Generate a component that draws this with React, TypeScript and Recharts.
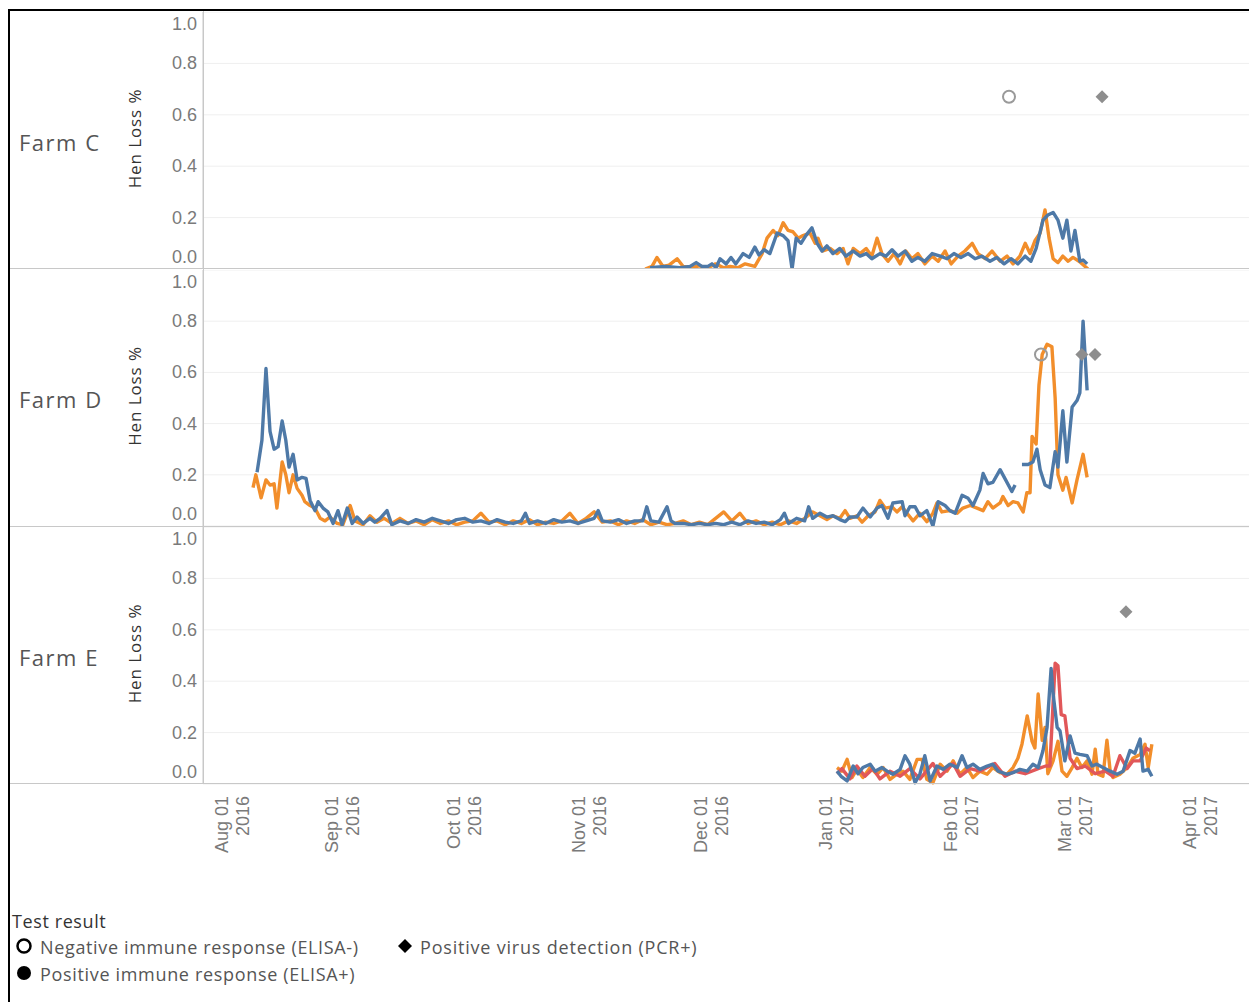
import React from 'react';
import { ComposedChart, Line, Scatter, XAxis, YAxis, CartesianGrid } from 'recharts';

// x values are days since 2017-01-01
const X_MIN = -156.66;
const X_MAX = 101.8;

const monthTickDays = [-153, -122, -92, -61, -31, 0, 31, 59, 90];
const monthTickMonths = ['Aug 01', 'Sep 01', 'Oct 01', 'Nov 01', 'Dec 01', 'Jan 01', 'Feb 01', 'Mar 01', 'Apr 01'];
const monthTickYears = ['2016', '2016', '2016', '2016', '2016', '2017', '2017', '2017', '2017'];
const yTicks = [0, 0.2, 0.4, 0.6, 0.8, 1.0];

const farmNames = ['Farm C', 'Farm D', 'Farm E'];

type P = [number, number | null];

const farmCOrange: P[] = [[-47.4,0],[-45.7,0.01],[-44.5,0.045],[-43,0.01],[-41.5,0.015],[-39.5,0.04],[-38,0.01],[-36,0.005],[-34,0.012],[-32,0.004],[-30,0.02],[-28,0.005],[-26.4,0.01],[-24.5,0.005],[-22.7,0.02],[-20.3,0.01],[-18.5,0.06],[-17.3,0.12],[-15.8,0.15],[-14.6,0.13],[-13.3,0.18],[-12.1,0.15],[-10.9,0.145],[-9.6,0.12],[-8.4,0.13],[-6.7,0.14],[-5.4,0.1],[-4.7,0.12],[-3.5,0.07],[-1.7,0.08],[0,0.06],[1.5,0.08],[2.7,0.02],[4,0.08],[5.7,0.06],[7.2,0.08],[8.6,0.05],[9.9,0.12],[11.1,0.06],[12.6,0.03],[14.1,0.06],[15.6,0.02],[17,0.07],[18.5,0.04],[20,0.06],[21.7,0.02],[23.5,0.05],[25,0.03],[26.7,0.07],[28.2,0.02],[29.9,0.05],[31.6,0.07],[33.4,0.1],[34.8,0.06],[36.6,0.04],[38.3,0.07],[40.3,0.03],[42,0.05],[43.5,0.02],[45.2,0.05],[46.5,0.1],[47.7,0.06],[48.9,0.11],[50.2,0.14],[51.4,0.23],[52.4,0.12],[53.4,0.04],[54.6,0.025],[55.8,0.05],[57.1,0.03],[58.3,0.045],[59.8,0.03],[61.3,0.01],[62,0]];

const farmCBlue: P[] = [[-46.2,0.005],[-42.5,0.01],[-38.8,0.005],[-36.3,0.01],[-34.8,0.025],[-33.4,0.01],[-31.9,0.01],[-30.9,0.02],[-29.9,0.005],[-28.9,0.04],[-27.4,0.02],[-26.2,0.045],[-25,0.02],[-23.2,0.06],[-21.7,0.045],[-20.3,0.085],[-19.3,0.055],[-18,0.075],[-16.6,0.06],[-14.8,0.14],[-13.3,0.13],[-12.1,0.11],[-11.1,0],[-10.1,0.12],[-8.9,0.1],[-7.7,0.13],[-6.2,0.16],[-4.9,0.1],[-3.7,0.07],[-2.5,0.09],[-1,0.06],[0.7,0.08],[2.2,0.05],[4,0.07],[5.7,0.05],[7.2,0.06],[8.6,0.04],[10.6,0.06],[12.1,0.05],[13.6,0.075],[15.1,0.05],[16.8,0.07],[18.5,0.03],[20,0.045],[21.7,0.03],[23.5,0.06],[25.5,0.05],[27.2,0.04],[28.9,0.06],[30.6,0.045],[32.4,0.06],[34.1,0.04],[35.8,0.05],[37.8,0.03],[39.5,0.045],[41.3,0.02],[43,0.04],[44.7,0.02],[46.5,0.05],[47.9,0.03],[49.2,0.08],[50.9,0.19],[52.1,0.21],[53.4,0.22],[54.6,0.19],[55.8,0.12],[56.8,0.19],[57.8,0.07],[58.8,0.15],[60,0.03],[60.8,0.035],[61.8,0.02]];

const farmDOrange: P[] = [[-144.3,0.15],[-143.6,0.2],[-142.3,0.11],[-141.1,0.18],[-140.1,0.16],[-139.1,0.165],[-138.4,0.07],[-137.1,0.25],[-136.2,0.2],[-135.4,0.13],[-134.4,0.2],[-133.4,0.147],[-132.2,0.12],[-131.5,0.095],[-130.2,0.08],[-129,0.07],[-127.7,0.03],[-126.5,0.02],[-125.3,0.035],[-123.5,0.01],[-122.1,0.005],[-120.3,0.08],[-119.1,0.02],[-117.1,0.005],[-115.4,0.04],[-113.7,0.015],[-111.9,0.03],[-110,0.01],
[-108,0.03],[-106,0.01],[-104,0.02],[-102,0.005],[-100,0.025],[-98,0.01],[-96,0.02],[-94,0.005],[-92,0.015],[-90,0.02],[-88,0.05],[-86,0.015],[-84,0.02],[-82,0.005],[-80,0.02],[-78,0.01],[-76,0.025],[-74,0.005],[-72,0.015],[-70,0.01],[-68,0.02],[-66,0.05],[-64,0.01],[-62,0.03],[-60,0.055],[-58,0.015],[-56,0.02],[-54,0.005],[-52,0.02],[-50,0.01],[-48,0.025],[-46,0.005],[-44,0.015],[-42,0.005],[-40,0.01],[-38,0.02],[-36,0.005],[-34,0.015],[-32,0.005],[-30,0.03],[-28,0.055],[-26,0.02],[-24,0.05],[-22,0.01],[-20,0.02],[-18,0.005],[-16,0.015],[-14,0.005],[-12,0.02],[-10,0.01],[-8,0.03],[-6,0.055],[-4.2,0.04],[-2.5,0.025],[-1,0.04],
[0.7,0.03],[2,0.06],[3.2,0.03],[4.9,0.04],[6.2,0.015],[7.7,0.04],[9.4,0.055],[10.6,0.1],[11.9,0.07],[13.6,0.075],[14.8,0.055],[16.1,0.075],[17.3,0.05],[18.8,0.02],[20.5,0.05],[22.2,0.017],[23.7,0.05],[24.7,0.09],[25.9,0.055],[27.9,0.06],[29.7,0.05],[31.1,0.07],[32.9,0.08],[34.6,0.07],[36.1,0.06],[37.3,0.095],[38.5,0.07],[40.3,0.09],[41,0.115],[42.3,0.08],[43.5,0.095],[44.7,0.09],[46,0.055],[46.9,0.13],[47.7,0.13],[48.2,0.35],[49.2,0.32],[49.9,0.55],[50.7,0.67],[51.9,0.71],[53.1,0.7],[53.9,0.5],[54.6,0.2],[55.8,0.14],[56.6,0.19],[58.1,0.09],[59.3,0.18],[60.8,0.28],[61.8,0.19]];

const farmDBlue: P[] = [[-143.3,0.21],[-142.1,0.335],[-141.1,0.615],[-140.1,0.37],[-139.1,0.3],[-138.1,0.31],[-137.1,0.41],[-136.2,0.335],[-135.4,0.23],[-134.4,0.28],[-133.4,0.18],[-132.2,0.19],[-131.2,0.186],[-130.2,0.1],[-129,0.06],[-128.2,0.095],[-127,0.07],[-125.8,0.055],[-124.5,0.01],[-123.3,0.06],[-122.3,0.005],[-121,0.07],[-119.8,0.01],[-118.6,0.035],[-117.1,0.01],[-115.4,0.03],[-114.2,0.015],[-112.9,0.03],[-111.2,0.06],[-110,0.005],
[-108,0.02],[-106,0.01],[-104,0.025],[-102,0.015],[-100,0.03],[-98,0.02],[-96,0.01],[-94,0.025],[-92,0.03],[-90,0.015],[-88,0.02],[-86,0.01],[-84,0.025],[-82,0.015],[-80,0.01],[-78,0.02],[-77,0.05],[-76,0.01],[-74,0.02],[-72,0.01],[-70,0.025],[-68,0.015],[-66,0.02],[-64,0.01],[-62,0.02],[-60,0.03],[-59,0.06],[-58,0.02],[-56,0.015],[-54,0.025],[-52,0.01],[-50,0.02],[-48,0.02],[-47,0.075],[-46,0.02],[-44,0.015],[-42,0.075],[-41,0.02],[-40,0.01],[-38,0.01],[-36,0.005],[-34,0.01],[-32,0.005],[-30,0.01],[-28,0.005],[-26,0.015],[-24,0.005],[-22,0.02],[-20,0.01],[-18,0.015],[-16,0.005],[-14,0.025],[-13,0.05],[-12,0.01],[-10,0.03],[-8,0.02],[-7,0.075],[-6,0.03],[-4.2,0.05],[-2.5,0.035],[-1,0.04],
[0.7,0.025],[2,0.017],[3.2,0.035],[4.9,0.035],[6.4,0.07],[8.2,0.035],[9.9,0.07],[11.1,0.08],[12.6,0.03],[13.8,0.09],[16.1,0.095],[16.8,0.04],[18,0.075],[19.3,0.075],[20.5,0.04],[22.2,0.06],[23.7,0],[25,0.095],[26.7,0.08],[27.9,0.06],[29.2,0.05],[30.9,0.12],[32.4,0.108],[33.6,0.08],[35.3,0.14],[36.1,0.205],[37.3,0.165],[38.5,0.17],[40.3,0.22],[41.5,0.185],[43.2,0.135],[44,0.16],[45,null],[45.7,0.24],[47.2,0.24],[48.4,0.25],[49.4,0.3],[50.2,0.22],[51.4,0.16],[52.6,0.15],[53.9,0.29],[54.6,0.23],[55.8,0.45],[56.8,0.25],[58.1,0.465],[59.3,0.49],[60,0.52],[60.8,0.8],[61.8,0.53]];

const farmEOrange: P[] = [[0,0.064],[1.2,0.05],[2.5,0.096],[3.7,0.025],[4.9,0.057],[6.4,0.025],[8.2,0.064],[9.9,0.038],[11.4,0.064],[13.1,0.018],[14.8,0.038],[16.3,0.05],[18,0.018],[19.8,0.096],[21,0.096],[22.2,0.018],[23.7,0.005],[25.5,0.077],[27.2,0.05],[28.7,0.09],[30.4,0.038],[32.1,0.064],[33.6,0.025],[35.3,0.05],[37.1,0.038],[38.5,0.064],[40.3,0.044],[42,0.038],[43.5,0.064],[44.7,0.1],[45.7,0.155],[47,0.265],[48.2,0.166],[48.9,0.14],[49.7,0.35],[50.7,0.17],[51.4,0.22],[52.1,0.04],[53.4,0.09],[54.6,0.166],[55.6,0.05],[56.8,0.03],[58.1,0.064],[59.3,0.1],[60.5,0.064],[61.8,0.09],[63,0.038],[63.8,0.135],[64.5,0.038],[65.7,0.03],[66.7,0.17],[67.5,0.05],[68.2,0.025],[69.9,0.038],[71.7,0.064],[73.1,0.1],[74.9,0.115],[76.1,0.155],[76.9,0.064],[77.8,0.155]];

const farmERed: P[] = [[0,0.04],[1.2,0.06],[3.2,0.02],[4.9,0.07],[6.9,0.03],[8.9,0.06],[10.6,0.02],[13.1,0.05],[15.6,0.03],[18,0.06],[20.5,0.02],[23.7,0.08],[25.5,0.03],[28.7,0.08],[30.4,0.03],[32.9,0.06],[35.3,0.05],[39,0.08],[41.5,0.03],[44,0.05],[46.5,0.04],[49.7,0.06],[51.6,0.07],[52.6,0.07],[53.9,0.47],[54.6,0.46],[55.4,0.27],[56.3,0.265],[57.6,0.1],[59.3,0.06],[61.3,0.07],[63.8,0.04],[66.3,0.05],[68.2,0.03],[69.9,0.11],[71.7,0.06],[73.1,0.09],[74.9,0.09],[76.4,0.14],[77.3,0.13]];

const farmEBlue: P[] = [[0,0.05],[1,0.03],[2.5,0.012],[4,0.07],[5.2,0.04],[6.4,0.064],[8.2,0.077],[9.4,0.05],[11.1,0.064],[12.4,0.05],[13.8,0.038],[15.6,0.057],[16.8,0.11],[18,0.077],[19.3,0.005],[20.5,0.04],[21.7,0.11],[23,0.012],[24.7,0.07],[26.2,0.057],[27.9,0.077],[29.7,0.064],[30.9,0.11],[32.1,0.064],[33.6,0.077],[35.3,0.057],[37.1,0.07],[38.5,0.077],[39.8,0.05],[42,0.038],[43.5,0.044],[45.2,0.057],[47,0.05],[48.4,0.077],[49.7,0.064],[50.9,0.13],[51.9,0.22],[52.9,0.45],[53.4,0.35],[54.4,0.22],[55.1,0.207],[56.3,0.09],[57.6,0.187],[58.8,0.12],[60,0.115],[61.8,0.11],[63,0.07],[64.2,0.077],[65.7,0.064],[67.5,0.05],[69.2,0.038],[70.7,0.05],[72.4,0.13],[73.6,0.12],[74.9,0.175],[75.6,0.05],[76.9,0.057],[77.8,0.03]];

// Test results (marker day, level)
const farmCNegElisa: P[] = [[42.5, 0.67]];
const farmCPcr: P[] = [[65.5, 0.67]];
const farmDNegElisa: P[] = [[50.4, 0.67]];
const farmDPcr: P[] = [[60.5, 0.67], [63.75, 0.67]];
const farmENegElisa: P[] = [];
const farmEPcr: P[] = [[71.4, 0.67]];

const BLUE = '#4e79a7';
const ORANGE = '#f28e2b';
const RED = '#e15759';

const toRows = (pts: P[]) => pts.map(([d, v]) => ({ d, v }));

const YTick = (props: any) => {
  const { x, y, payload } = props;
  const v = payload.value;
  const dy = v === 1 ? 12 : v === 0 ? -12 : 0;
  return (
    <text x={x} y={y + dy} textAnchor="end" dominantBaseline="central" fontSize={18}
      fill="#7a7a7a" fontFamily="'Liberation Sans', Arial, sans-serif">{v.toFixed(1)}</text>
  );
};

const XTick = (props: any) => {
  const { x, y, payload } = props;
  const i = monthTickDays.indexOf(payload.value);
  if (i < 0) return null;
  const cx = x + (i === 0 ? 15 : 0);
  const top = y + 12;
  const common = {
    textAnchor: 'end' as const, dominantBaseline: 'central' as const, fontSize: 18,
    fill: '#7a7a7a', fontFamily: "'Liberation Sans', Arial, sans-serif",
  };
  return (
    <g>
      <text {...common} transform={`translate(${cx - 11},${top}) rotate(-90)`}>{monthTickMonths[i]}</text>
      <text {...common} transform={`translate(${cx + 10},${top}) rotate(-90)`}>{monthTickYears[i]}</text>
    </g>
  );
};

const CircleShape = (props: any) => {
  const { cx, cy } = props;
  if (cx == null || cy == null) return null;
  return <circle cx={cx} cy={cy} r={6} fill="none" stroke="#9a9a9a" strokeWidth={2} />;
};
const DiamondShape = (props: any) => {
  const { cx, cy } = props;
  if (cx == null || cy == null) return null;
  const s = 6.5;
  return <polygon points={`${cx},${cy - s} ${cx + s},${cy} ${cx},${cy + s} ${cx - s},${cy}`} fill="#8e8e8e" />;
};

type PanelProps = {
  top: number; height: number; showX: boolean;
  orange: P[]; blue: P[]; red?: P[]; neg: P[]; pcr: P[];
};

const LW = 3.4;

const Panel = ({ top, height, showX, orange, blue, red, neg, pcr }: PanelProps) => (
  <div style={{ position: 'absolute', left: 8, top }}>
    <ComposedChart width={1241} height={height + (showX ? 90 : 0)} margin={{ top: 0, right: 0, bottom: 0, left: 0 }}>
      <CartesianGrid vertical={false} stroke="#efefef" />
      <XAxis type="number" dataKey="d" domain={[X_MIN, X_MAX]} allowDataOverflow hide={!showX}
        ticks={monthTickDays} interval={0} height={showX ? 90 : 0} axisLine={false} tickLine={false}
        tickSize={0} tickMargin={0} tick={<XTick />} />
      <YAxis type="number" domain={[0, 1]} ticks={yTicks} interval={0} width={195}
        axisLine={{ stroke: '#c8c8c8' }} tickLine={false} tickSize={0} tickMargin={6} tick={<YTick />} />
      <Line data={toRows(orange)} dataKey="v" stroke={ORANGE} strokeWidth={LW} dot={false}
        isAnimationActive={false} strokeLinejoin="round" />
      {red && (
        <Line data={toRows(red)} dataKey="v" stroke={RED} strokeWidth={LW} dot={false}
          isAnimationActive={false} strokeLinejoin="round" />
      )}
      <Line data={toRows(blue)} dataKey="v" stroke={BLUE} strokeWidth={LW} dot={false}
        isAnimationActive={false} strokeLinejoin="round" />
      <Scatter data={toRows(neg)} dataKey="v" shape={<CircleShape />} isAnimationActive={false} />
      <Scatter data={toRows(pcr)} dataKey="v" shape={<DiamondShape />} isAnimationActive={false} />
    </ComposedChart>
  </div>
);

const panelTops = [12, 270, 527];
const panelHeights = [257, 256, 257];

export default function App() {
  const sans = "'Open Sans', 'Noto Sans', sans-serif";
  return (
    <div style={{ position: 'fixed', left: 0, top: 0, width: 1249, height: 1002, overflow: 'hidden', background: '#fff' }}>
      {/* frame */}
      <div style={{ position: 'absolute', left: 8, top: 9, width: 1400, height: 1200, borderLeft: '2px solid #000', borderTop: '2px solid #000' }} />
      <Panel top={panelTops[0]} height={panelHeights[0]} showX={false} orange={farmCOrange} blue={farmCBlue} neg={farmCNegElisa} pcr={farmCPcr} />
      <Panel top={panelTops[1]} height={panelHeights[1]} showX={false} orange={farmDOrange} blue={farmDBlue} neg={farmDNegElisa} pcr={farmDPcr} />
      <Panel top={panelTops[2]} height={panelHeights[2]} showX={true} orange={farmEOrange} blue={farmEBlue} red={farmERed} neg={farmENegElisa} pcr={farmEPcr} />
      {/* pane separators */}
      {[268, 526, 783].map((y) => (
        <div key={y} style={{ position: 'absolute', left: 10, top: y, width: 1239, height: 1, background: '#c8c8c8' }} />
      ))}
      <div style={{ position: 'absolute', left: 203, top: 11, width: 1, height: 773, background: '#c8c8c8' }} />
      <svg style={{ position: 'absolute', left: 0, top: 0 }} width={1249} height={800}>
        {farmNames.map((name, i) => {
          const cy = panelTops[i] + panelHeights[i] / 2;
          return (
            <g key={name}>
              <text x={19} y={cy + 1} dominantBaseline="central" fontSize={22} letterSpacing={1.5}
                fill="#555" fontFamily={sans}>{name}</text>
              <text transform={`translate(134,${cy - 2}) rotate(-90)`} textAnchor="middle" dominantBaseline="central"
                fontSize={17} letterSpacing={0.9} fill="#333" fontFamily={sans}>Hen Loss %</text>
            </g>
          );
        })}
      </svg>
      {/* legend */}
      <div style={{ position: 'absolute', left: 12, top: 908, fontFamily: sans, fontSize: 18, letterSpacing: 0.6, color: '#333', lineHeight: '26px' }}>Test result</div>
      <svg style={{ position: 'absolute', left: 0, top: 930 }} width={720} height={60}>
        <circle cx={24} cy={16} r={6.5} fill="none" stroke="#000" strokeWidth={2.5} />
        <text x={40} y={17} dominantBaseline="central" fontSize={18} letterSpacing={0.65} fill="#555" fontFamily={sans}>Negative immune response (ELISA-)</text>
        <polygon points="405,9 412,16 405,23 398,16" fill="#000" />
        <text x={420} y={17} dominantBaseline="central" fontSize={18} letterSpacing={0.8} fill="#555" fontFamily={sans}>Positive virus detection (PCR+)</text>
        <circle cx={24} cy={43} r={7} fill="#000" />
        <text x={40} y={44} dominantBaseline="central" fontSize={18} letterSpacing={0.67} fill="#555" fontFamily={sans}>Positive immune response (ELISA+)</text>
      </svg>
    </div>
  );
}
